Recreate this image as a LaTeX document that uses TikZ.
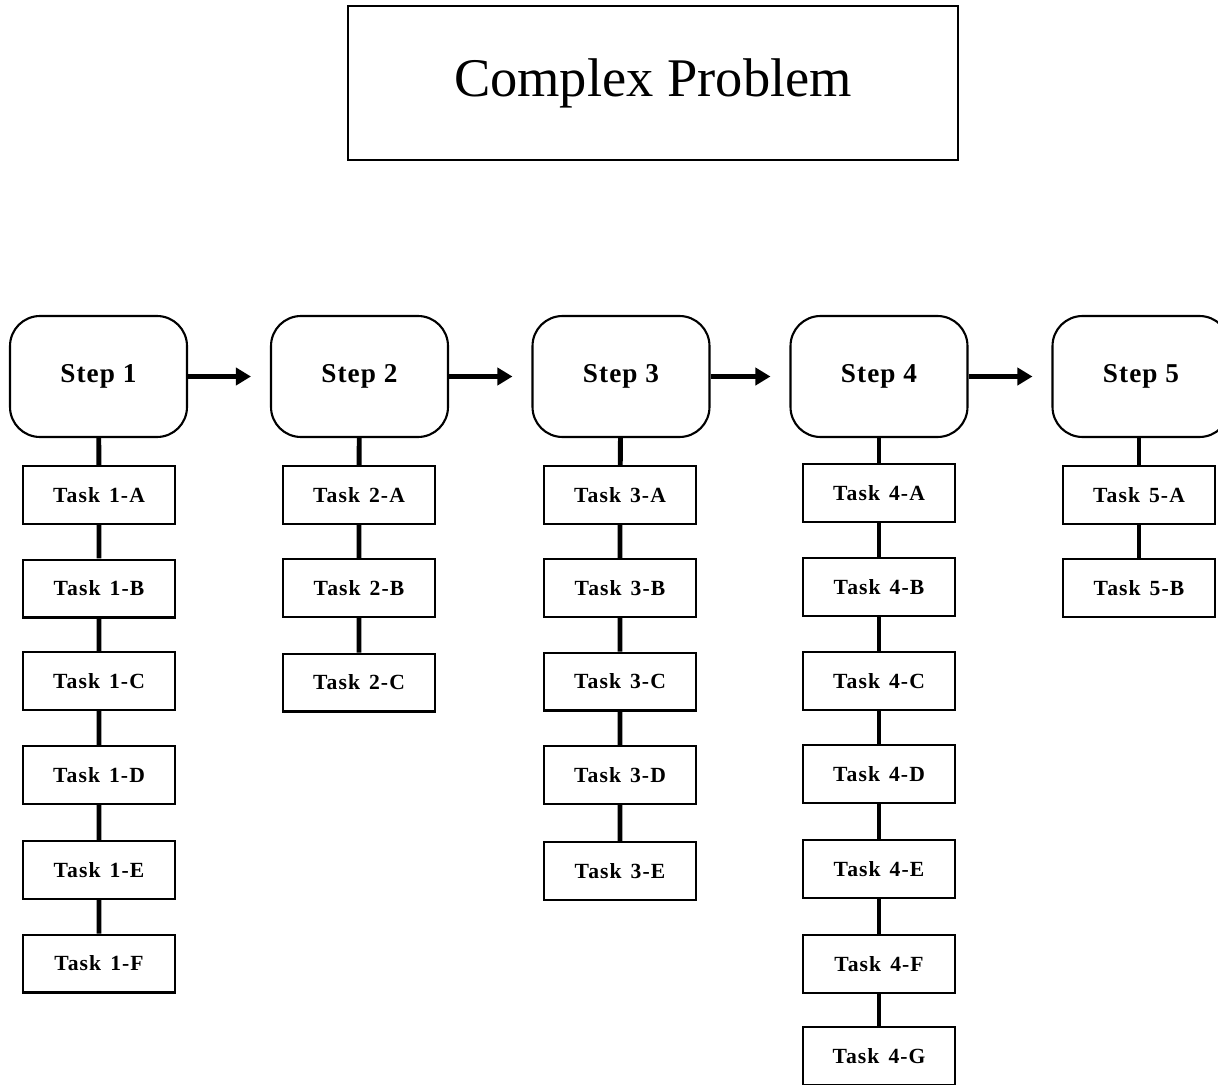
\documentclass[tikz,border=0pt]{standalone}
\usepackage{fontspec}
\setmainfont{Liberation Serif}
\usetikzlibrary{arrows.meta}
\newcommand{\tsk}[1]{Task\hspace{0.42em}#1}
\begin{document}
\begin{tikzpicture}[x=0.02cm,y=-0.02cm,
  titlebox/.style={draw, line width=0.7pt, minimum width=12.2cm, minimum height=3.08cm,
    font=\fontsize{31}{36}\selectfont},
  stepbox/.style={draw, line width=1.2pt, rounded corners=0.6cm, minimum width=3.54cm,
    minimum height=2.42cm, font=\fontsize{15.5}{18}\selectfont\bfseries\addfontfeature{LetterSpace=4}},
  taskbox/.style={draw, line width=1.15pt, minimum width=3.04cm, minimum height=1.16cm,
    font=\fontsize{12.3}{14}\selectfont\bfseries\addfontfeature{LetterSpace=5}},
  flow/.style={line width=2.5pt, -{Triangle[length=0.3cm,width=0.34cm]}, shorten >=0.38cm},
  link/.style={line width=2.8pt}]
\clip (0,0) rectangle (1218,1085);
\useasboundingbox (0,0) rectangle (1218,1085);

% title
\node[titlebox] (cp) at (653,83) {Complex Problem};

% steps
\node[stepbox] (s1) at (98.5,376.5) {Step 1};
\node[stepbox] (s2) at (359.5,376.5) {Step 2};
\node[stepbox] (s3) at (621,376.5) {Step 3};
\node[stepbox] (s4) at (879,376.5) {Step 4};
\node[stepbox] (s5) at (1141,376.5) {Step 5};

\draw[flow] (s1) -- (s2);
\draw[flow] (s2) -- (s3);
\draw[flow] (s3) -- (s4);
\draw[flow] (s4) -- (s5);

% tasks of step 1
\node[taskbox] (t1a) at (99,495) {\tsk{1-A}};
\node[taskbox] (t1b) at (99,588.5) {\tsk{1-B}};
\node[taskbox] (t1c) at (99,681) {\tsk{1-C}};
\node[taskbox] (t1d) at (99,775) {\tsk{1-D}};
\node[taskbox] (t1e) at (99,870) {\tsk{1-E}};
\node[taskbox] (t1f) at (99,963.5) {\tsk{1-F}};
\draw[link] (s1) -- (t1a) -- (t1b) -- (t1c) -- (t1d) -- (t1e) -- (t1f);

% tasks of step 2
\node[taskbox] (t2a) at (359,495) {\tsk{2-A}};
\node[taskbox] (t2b) at (359,588) {\tsk{2-B}};
\node[taskbox] (t2c) at (359,682.5) {\tsk{2-C}};
\draw[link] (s2) -- (t2a) -- (t2b) -- (t2c);

% tasks of step 3
\node[taskbox] (t3a) at (620,495) {\tsk{3-A}};
\node[taskbox] (t3b) at (620,588) {\tsk{3-B}};
\node[taskbox] (t3c) at (620,681.5) {\tsk{3-C}};
\node[taskbox] (t3d) at (620,775) {\tsk{3-D}};
\node[taskbox] (t3e) at (620,871) {\tsk{3-E}};
\draw[link] (s3) -- (t3a) -- (t3b) -- (t3c) -- (t3d) -- (t3e);

% tasks of step 4
\node[taskbox] (t4a) at (879,493) {\tsk{4-A}};
\node[taskbox] (t4b) at (879,587) {\tsk{4-B}};
\node[taskbox] (t4c) at (879,681) {\tsk{4-C}};
\node[taskbox] (t4d) at (879,774) {\tsk{4-D}};
\node[taskbox] (t4e) at (879,869) {\tsk{4-E}};
\node[taskbox] (t4f) at (879,964) {\tsk{4-F}};
\node[taskbox] (t4g) at (879,1056) {\tsk{4-G}};
\draw[link] (s4) -- (t4a) -- (t4b) -- (t4c) -- (t4d) -- (t4e) -- (t4f) -- (t4g);

% tasks of step 5
\node[taskbox] (t5a) at (1139,495) {\tsk{5-A}};
\node[taskbox] (t5b) at (1139,588) {\tsk{5-B}};
\draw[link] (s5.south -| t5a) -- (t5a) -- (t5b);
\end{tikzpicture}
\end{document}
